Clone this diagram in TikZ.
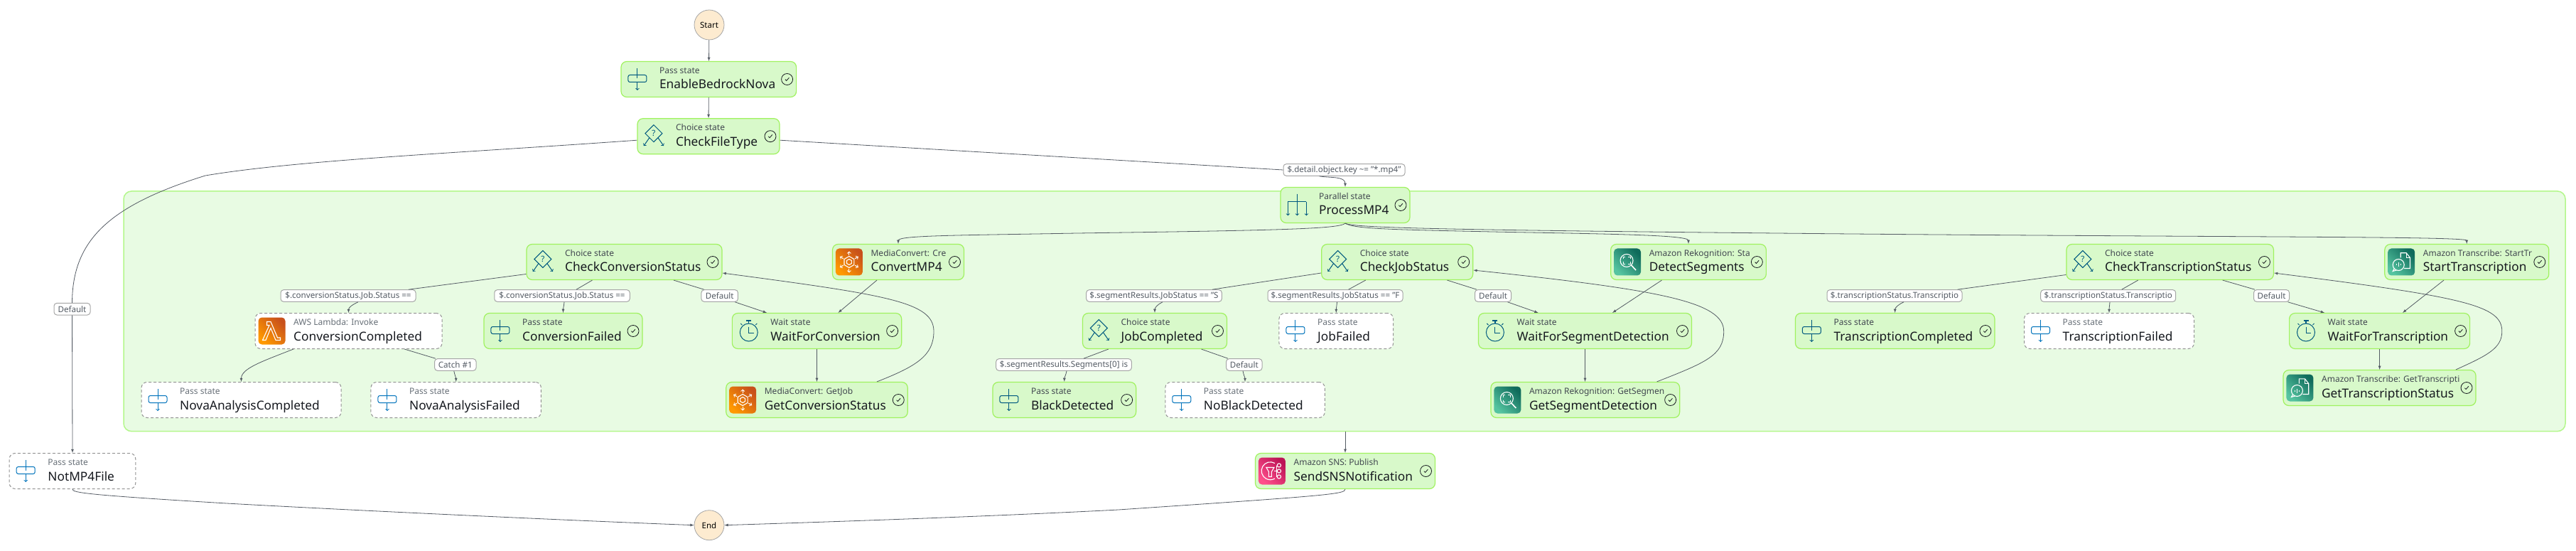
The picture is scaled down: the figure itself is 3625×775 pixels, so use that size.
\documentclass[tikz,border=0pt]{standalone}
\usepackage{fontspec}
\setmainfont{Noto Sans}
\usepackage{xcolor}

\definecolor{statefill}{HTML}{D8F9CA}
\definecolor{stateline}{HTML}{A0F25F}
\definecolor{groupfill}{HTML}{E8FBE3}
\definecolor{groupline}{HTML}{B4F78C}
\definecolor{edgegrey}{HTML}{545B64}
\definecolor{titleink}{HTML}{16191F}
\definecolor{donekind}{HTML}{414750}
\definecolor{skipkind}{HTML}{687078}
\definecolor{donepath}{HTML}{00597F}
\definecolor{skippath}{HTML}{0073BB}
\definecolor{terminalfill}{HTML}{FDEBD0}
\definecolor{orangelow}{HTML}{C8511B}
\definecolor{orangehigh}{HTML}{FF9900}
\definecolor{greenlow}{HTML}{0F6B5B}
\definecolor{greenhigh}{HTML}{55C4A0}
\definecolor{pinklow}{HTML}{BC1356}
\definecolor{pinkhigh}{HTML}{FF4F8B}

\tikzset{
    donebox/.style={draw=stateline, fill=statefill, line width=1.2pt, rounded corners=8pt, minimum height=50pt, inner sep=0pt},
    skipbox/.style={draw=gray!85, fill=white, dash pattern=on 4pt off 3pt, line width=1pt, rounded corners=8pt, minimum height=50pt, inner sep=0pt},
    edgelabel/.style={draw=gray!70, fill=white, line width=1pt, rounded corners=4pt, minimum height=16.6pt, inner sep=0pt, text=edgegrey, font=\fontsize{11.6}{12}\selectfont},
    kindtext/.style={anchor=base west, inner sep=0pt, font=\fontsize{12}{13}\selectfont},
    titletext/.style={anchor=base west, inner sep=0pt, text=titleink, font=\fontsize{17.3}{19}\selectfont},
    flow/.style={draw=edgegrey, line width=0.8pt},
    flowto/.style={flow, >=latex, ->},
    whiteline/.style={white, line width=1.1pt},
    passicon/.pic={
        \draw [#1, line width=1pt, ->] (0,-4) -- (0,-15.5);
        \draw [#1, line width=1pt] (0,15.5) -- (0,1);
        \draw [#1, line width=1pt, rounded corners=2.5pt] (-13,6) rectangle (13,-4);
    },
    choiceicon/.pic={
        \draw [#1, line width=1pt] (0,16) -- (12,4) -- (0,-8) -- (-12,4) -- cycle;
        \node [inner sep=0pt, text=#1, font=\fontsize{11.5}{12}\selectfont\bfseries] (qmark) at (0,4) {?};
        \draw [#1, line width=1pt, ->] (6,-2) -- (14,-13.5);
        \draw [#1, line width=1pt, ->] (-6,-2) -- (-14,-13.5);
    },
    waiticon/.pic={
        \draw [#1, line width=1pt] (0,-2) circle (12.5);
        \draw [#1, line width=1.2pt] (0,10.5) -- (0,14);
        \draw [#1, line width=1.2pt] (-3.5,14.5) -- (3.5,14.5);
        \draw [#1, line width=1pt] (-9.5,8.5) -- (-11.5,10.5);
        \draw [#1, line width=1pt] (9.5,8.5) -- (11.5,10.5);
        \draw [#1, line width=1pt] (0,6) -- (0,-3) -- (7,-3);
    },
    parallelicon/.pic={
        \draw [#1, line width=1pt] (0,15.8) -- (0,4.5);
        \draw [#1, line width=1pt] (-13,4.5) -- (13,4.5);
        \foreach \i in {-13,0,13} {
            \draw [#1, line width=1pt, ->] (\i,4.5) -- (\i,-14.8);
        }
    },
    statecheck/.pic={
        \draw [titleink, line width=0.8pt] (0,0) circle (8);
        \draw [titleink, line width=0.8pt] (-2.7,-0.2) -- (-0.9,-2) -- (2.8,2.2);
    },
    lambdaicon/.pic={
        \shade [rounded corners=5pt, left color=orangelow, right color=orangehigh, shading angle=-45] (-19,-19) rectangle (19,19);
        \draw [whiteline] (-7,13) -- (-1.5,13) -- (8,-9.5) -- (12,-9.5) -- (12,-13) -- (5.5,-13) -- (-1.5,4) -- (-8.5,-13) -- (-13,-13) -- (-3.5,8) -- (-7,8) -- cycle;
    },
    converticon/.pic={
        \shade [rounded corners=5pt, left color=orangelow, right color=orangehigh, shading angle=-45] (-19,-19) rectangle (19,19);
        \draw [whiteline] (30:8) -- (90:8) -- (150:8) -- (210:8) -- (270:8) -- (330:8) -- cycle;
        \draw [whiteline] (30:4) -- (90:4) -- (150:4) -- (210:4) -- (270:4) -- (330:4) -- cycle;
        \foreach \i in {30,90,...,330} {
            \draw [whiteline, ->] (\i:9.5) -- (\i:15);
        }
    },
    rekognitionicon/.pic={
        \shade [rounded corners=5pt, left color=greenlow, right color=greenhigh, shading angle=-45] (-19,-19) rectangle (19,19);
        \draw [whiteline] (-1,2) circle (9);
        \draw [whiteline, line width=1.6pt] (5.5,-4.5) -- (12,-11.5);
        \foreach \i/\j in {-1/1,1/1,-1/-1,1/-1} {
            \draw [whiteline] ({-1+\i*5},{2+\j*2}) -- ({-1+\i*5},{2+\j*5}) -- ({-1+\i*2},{2+\j*5});
        }
    },
    transcribeicon/.pic={
        \shade [rounded corners=5pt, left color=greenlow, right color=greenhigh, shading angle=-45] (-19,-19) rectangle (19,19);
        \draw [whiteline] (-1,6) -- (-1,12.7) -- (7,12.7) -- (12.3,6) -- (12.3,-9) -- (4,-9);
        \draw [whiteline] (7,12.7) -- (7,6) -- (12.3,6);
        \draw [whiteline] (-4,-4) circle (8);
        \draw [whiteline] (-10,-9.5) -- (-12,-13) -- (-7,-11.5);
        \draw [whiteline] (-4,-1) -- (-4,-7);
        \draw [whiteline] (-7,-3) -- (-7,-5);
        \draw [whiteline] (-1,-3) -- (-1,-5);
    },
    snsicon/.pic={
        \shade [rounded corners=5pt, left color=pinklow, right color=pinkhigh, shading angle=-45] (-19,-19) rectangle (19,19);
        \draw [whiteline] (4,11) arc (60:300:12.5);
        \draw [whiteline] (-8,5) -- (3,5) -- (-0.5,-1) -- (-0.5,-8) -- (-4.5,-8) -- (-4.5,-1) -- cycle;
        \draw [whiteline] (3,0) -- (7,0);
        \draw [whiteline] (7,8) -- (7,-8);
        \foreach \i in {8,0,-8} {
            \draw [whiteline] (10,\i) circle (2.6);
        }
    },
}

\begin{document}
\begin{tikzpicture}[x=1pt, y=-1pt, every pic/.style={y=1pt}]

\useasboundingbox (0,0) rectangle (3625,775);

\node [draw=groupline, fill=groupfill, line width=1.5pt, rounded corners=11pt, minimum width=3436pt, minimum height=337.7pt] (parallelbox) at (1892,437.8) {};

\node [draw=gray!70, fill=terminalfill, line width=0.8pt, circle, minimum size=42pt, inner sep=0pt, font=\fontsize{11.5}{12}\selectfont] (startstate) at (998,35) {Start};
\node [draw=gray!70, fill=terminalfill, line width=0.8pt, circle, minimum size=42pt, inner sep=0pt, font=\fontsize{11.5}{12}\selectfont] (endstate) at (998,738.7) {End};

\node [donebox, minimum width=246.6pt] (enable) at (997.3,111.5) {};
\node [donebox, minimum width=200pt] (checkfile) at (997,191.7) {};
\node [donebox, minimum width=182pt] (processmp) at (1893,288.5) {};

\node [donebox, minimum width=275pt] (checkconv) at (878.5,368.5) {};
\node [donebox, minimum width=185pt] (convertmp) at (1264,368.5) {};
\node [donebox, minimum width=213pt] (checkjob) at (1966.2,368.5) {};
\node [donebox, minimum width=218.7pt] (detectseg) at (2376,368.5) {};
\node [donebox, minimum width=291.5pt] (checktrans) at (3053.7,368.5) {};
\node [donebox, minimum width=231pt] (starttrans) at (3471.3,368.5) {};

\node [skipbox, minimum width=263pt] (convdone) at (490.5,465.5) {};
\node [donebox, minimum width=223pt] (convfailed) at (792.5,465.5) {};
\node [donebox, minimum width=238.3pt] (waitconv) at (1149.5,465.5) {};
\node [donebox, minimum width=203pt] (jobdone) at (1625,465.5) {};
\node [skipbox, minimum width=160.7pt] (jobfailed) at (1880.3,465.5) {};
\node [donebox, minimum width=300pt] (waitseg) at (2230.5,465.5) {};
\node [donebox, minimum width=280.5pt] (transdone) at (2666.7,465.5) {};
\node [skipbox, minimum width=239pt] (transfailed) at (2968,465.5) {};
\node [donebox, minimum width=254pt] (waittrans) at (3348.6,465.5) {};

\node [skipbox, minimum width=281pt] (novadone) at (339.5,562.5) {};
\node [skipbox, minimum width=239.5pt] (novafailed) at (641.7,562.5) {};
\node [donebox, minimum width=255.5pt] (getconv) at (1149.5,562.5) {};
\node [donebox, minimum width=201.7pt] (blackfound) at (1497.8,562.5) {};
\node [skipbox, minimum width=224.5pt] (noblack) at (1752,562.5) {};
\node [donebox, minimum width=265.7pt] (getseg) at (2230.8,562.5) {};
\node [donebox, minimum width=271pt] (gettrans) at (3348.5,545.5) {};

\node [skipbox, minimum width=177.6pt] (notmp) at (102,662.5) {};
\node [donebox, minimum width=253pt] (sendsns) at (1893,662.5) {};

% state texts
\foreach \n/\k/\t in {enable/Pass state/EnableBedrockNova, checkfile/Choice state/CheckFileType, processmp/Parallel state/ProcessMP4, checkconv/Choice state/CheckConversionStatus, convertmp/MediaConvert: Cre/ConvertMP4, checkjob/Choice state/CheckJobStatus, detectseg/Amazon Rekognition: Sta/DetectSegments, checktrans/Choice state/CheckTranscriptionStatus, starttrans/Amazon Transcribe: StartTr/StartTranscription, convfailed/Pass state/ConversionFailed, waitconv/Wait state/WaitForConversion, jobdone/Choice state/JobCompleted, waitseg/Wait state/WaitForSegmentDetection, transdone/Pass state/TranscriptionCompleted, waittrans/Wait state/WaitForTranscription, getconv/MediaConvert: GetJob/GetConversionStatus, blackfound/Pass state/BlackDetected, getseg/Amazon Rekognition: GetSegmen/GetSegmentDetection, gettrans/Amazon Transcribe: GetTranscripti/GetTranscriptionStatus, sendsns/Amazon SNS: Publish/SendSNSNotification} {
    \node [kindtext, text=donekind] (\n-kind) at ([xshift=54.5pt,yshift=7.8pt]\n.west) {\k};
    \node [titletext] (\n-title) at ([xshift=54.5pt,yshift=-13.5pt]\n.west) {\t};
    \pic at ([xshift=-13.6pt]\n.east) {statecheck};
}
\foreach \n/\k/\t in {convdone/AWS Lambda: Invoke/ConversionCompleted, jobfailed/Pass state/JobFailed, transfailed/Pass state/TranscriptionFailed, novadone/Pass state/NovaAnalysisCompleted, novafailed/Pass state/NovaAnalysisFailed, noblack/Pass state/NoBlackDetected, notmp/Pass state/NotMP4File} {
    \node [kindtext, text=skipkind] (\n-kind) at ([xshift=54.5pt,yshift=7.8pt]\n.west) {\k};
    \node [titletext] (\n-title) at ([xshift=54.5pt,yshift=-13.5pt]\n.west) {\t};
}

% state icons
\foreach \n in {enable,convfailed,blackfound,transdone} {
    \pic at ([xshift=23.5pt]\n.west) {passicon=donepath};
}
\foreach \n in {jobfailed,transfailed,novadone,novafailed,noblack,notmp} {
    \pic at ([xshift=23.5pt]\n.west) {passicon=skippath};
}
\foreach \n in {checkfile,checkconv,checkjob,checktrans,jobdone} {
    \pic at ([xshift=23.5pt]\n.west) {choiceicon=donepath};
}
\foreach \n in {waitconv,waitseg,waittrans} {
    \pic at ([xshift=24pt]\n.west) {waiticon=donepath};
}
\pic at ([xshift=24pt]processmp.west) {parallelicon=donepath};
\pic at ([xshift=24pt]convdone.west) {lambdaicon};
\foreach \n in {convertmp,getconv} {
    \pic at ([xshift=24pt]\n.west) {converticon};
}
\foreach \n in {detectseg,getseg} {
    \pic at ([xshift=24pt]\n.west) {rekognitionicon};
}
\foreach \n in {starttrans,gettrans} {
    \pic at ([xshift=24pt]\n.west) {transcribeicon};
}
\pic at ([xshift=24pt]sendsns.west) {snsicon};

% edge labels
\node [edgelabel, minimum width=171pt] (keylabel) at (1891.5,239) {\$.detail.object.key \textasciitilde= "*.mp4"};
\node [edgelabel, minimum width=51pt] (defaultmp) at (101.5,434.7) {Default};
\node [edgelabel, minimum width=190pt] (convokay) at (490,416) {\$.conversionStatus.Job.Status ==};
\node [edgelabel, minimum width=190.5pt] (convbad) at (791,416) {\$.conversionStatus.Job.Status ==};
\node [edgelabel, minimum width=51.5pt] (defaultconv) at (1012.7,416) {Default};
\node [edgelabel, minimum width=190.6pt] (jobokay) at (1624,416) {\$.segmentResults.JobStatus == "S};
\node [edgelabel, minimum width=190pt] (jobbad) at (1879,416) {\$.segmentResults.JobStatus == "F};
\node [edgelabel, minimum width=51pt] (defaultjob) at (2101,416) {Default};
\node [edgelabel, minimum width=190pt] (transokay) at (2666,416) {\$.transcriptionStatus.Transcriptio};
\node [edgelabel, minimum width=190pt] (transbad) at (2966.7,416) {\$.transcriptionStatus.Transcriptio};
\node [edgelabel, minimum width=50pt] (defaulttrans) at (3196.5,416) {Default};
\node [edgelabel, minimum width=58.4pt] (catchone) at (640.8,513) {Catch \#1};
\node [edgelabel, minimum width=190.6pt] (seglabel) at (1497,513) {\$.segmentResults.Segments[0] is};
\node [edgelabel, minimum width=50.4pt] (defaultseg) at (1750.8,513) {Default};

% main line
\draw [flowto] (startstate) -- (enable);
\draw [flowto] (enable) -- (checkfile);
\draw [flow] ([yshift=-5.5pt]checkfile.east) -- (keylabel.west);
\draw [flowto] ([xshift=-35pt]keylabel.south) to [out=-10,in=90] (processmp.north);
\draw [flow] ([yshift=-5.5pt]checkfile.west) .. controls (650,215) and (420,225) .. (289,247) .. controls (150,290) and (102,340) .. (defaultmp.north);
\draw [flowto] (defaultmp) -- (notmp.north);
\draw [flowto] (parallelbox.south -| sendsns.north) -- (sendsns.north);
\draw [flowto] (notmp.south) .. controls (102,693) and (120,696) .. (319,708) .. controls (500,718) and (800,732) .. (endstate.west);
\draw [flowto] (sendsns.south) .. controls (1893,695) and (1870,697) .. (1574,717) .. controls (1400,726) and (1200,733) .. (endstate.east);

% parallel branches
\draw [flowto] (processmp.south) .. controls (1885,322) and (1800,324) .. (1516,328) .. controls (1350,331) and (1264,331) .. (convertmp.north);
\draw [flowto] (processmp.south) .. controls (1905,322) and (1960,323) .. (2100,326) .. controls (2250,329) and (2376,330) .. (detectseg.north);
\draw [flowto] (processmp.south) .. controls (1905,320) and (2000,323) .. (2500,328) .. controls (3100,334) and (3471,332) .. (starttrans.north);

% conversion branch
\draw [flow] ([yshift=-17pt]checkconv.west) -- ([xshift=85pt]convokay.north);
\draw [flowto] ([xshift=14pt]convokay.south) to [out=205,in=90] (convdone.north);
\draw [flow] ([xshift=-45pt]checkconv.south) -- ([xshift=20pt]convbad.north);
\draw [flowto] ([xshift=3pt]convbad.south) to [out=-95,in=90] (convfailed.north);
\draw [flow] ([xshift=69.5pt]checkconv.south) -- ([xshift=-22pt]defaultconv.north);
\draw [flowto] ([xshift=21.5pt]defaultconv.south) -- ([xshift=-70.5pt]waitconv.north);
\draw [flowto] ([xshift=-30pt]convertmp.south) -- ([xshift=30pt]waitconv.north);
\draw [flowto] (waitconv.south) -- (getconv.north);
\draw [flowto] ([xshift=84.5pt]getconv.north) .. controls (1290,515) and (1314,500) .. (1314,466) .. controls (1314,425) and (1250,415) .. ([yshift=-15.5pt]checkconv.east);
\draw [flowto] ([xshift=-77.5pt]convdone.south) .. controls (370,508) and (339.5,518) .. (novadone.north);
\draw [flow] ([xshift=78.5pt]convdone.south) -- ([xshift=-28pt]catchone.north);
\draw [flowto] ([xshift=-2pt]catchone.south) to [out=-80,in=90] (novafailed.north);

% segment branch
\draw [flow] ([yshift=-15.5pt]checkjob.west) -- ([xshift=82pt]jobokay.north);
\draw [flowto] ([xshift=12pt]jobokay.south) to [out=205,in=90] (jobdone.north);
\draw [flow] ([xshift=-44.5pt]checkjob.south) -- ([xshift=18.6pt]jobbad.north);
\draw [flowto] ([xshift=2.5pt]jobbad.south) to [out=-95,in=90] (jobfailed.north);
\draw [flow] ([xshift=70.3pt]checkjob.south) -- ([xshift=-23pt]defaultjob.north);
\draw [flowto] ([xshift=20.5pt]defaultjob.south) -- ([xshift=-66pt]waitseg.north);
\draw [flowto] ([xshift=-37.5pt]detectseg.south) -- ([xshift=38.5pt]waitseg.north);
\draw [flowto] (waitseg.south) -- (getseg.north -| waitseg.south);
\draw [flowto] ([xshift=100.8pt]getseg.north) .. controls (2400,510) and (2425.7,500) .. (2425.7,466) .. controls (2425.7,425) and (2340,408) .. ([yshift=-11.5pt]checkjob.east);
\draw [flow] ([xshift=-65.3pt]jobdone.south) -- ([xshift=28pt]seglabel.north);
\draw [flowto] ([xshift=4pt]seglabel.south) to [out=-100,in=90] (blackfound.north);
\draw [flow] ([xshift=65.6pt]jobdone.south) -- ([xshift=-22.8pt]defaultseg.north);
\draw [flowto] ([xshift=-1.8pt]defaultseg.south) to [out=-80,in=90] (noblack.north);

% transcription branch
\draw [flow] ([yshift=-18pt]checktrans.west) -- ([xshift=88.7pt]transokay.north);
\draw [flowto] ([xshift=13pt]transokay.south) to [out=205,in=90] (transdone.north);
\draw [flow] ([xshift=-45pt]checktrans.south) -- ([xshift=19pt]transbad.north);
\draw [flowto] ([xshift=2.3pt]transbad.south) to [out=-95,in=90] (transfailed.north);
\draw [flow] ([xshift=74pt]checktrans.south) -- ([xshift=-23.5pt]defaulttrans.north);
\draw [flowto] ([xshift=23pt]defaulttrans.south) -- ([xshift=-77.6pt]waittrans.north);
\draw [flowto] ([xshift=-32.3pt]starttrans.south) -- ([xshift=32.4pt]waittrans.north);
\draw [flowto] (waittrans.south) -- (gettrans.north -| waittrans.south);
\draw [flowto] ([xshift=107.5pt]gettrans.north) .. controls (3500,500) and (3520.8,490) .. (3520.8,466) .. controls (3520.8,430) and (3470,418) .. ([yshift=-15.5pt]checktrans.east);

\end{tikzpicture}
\end{document}
